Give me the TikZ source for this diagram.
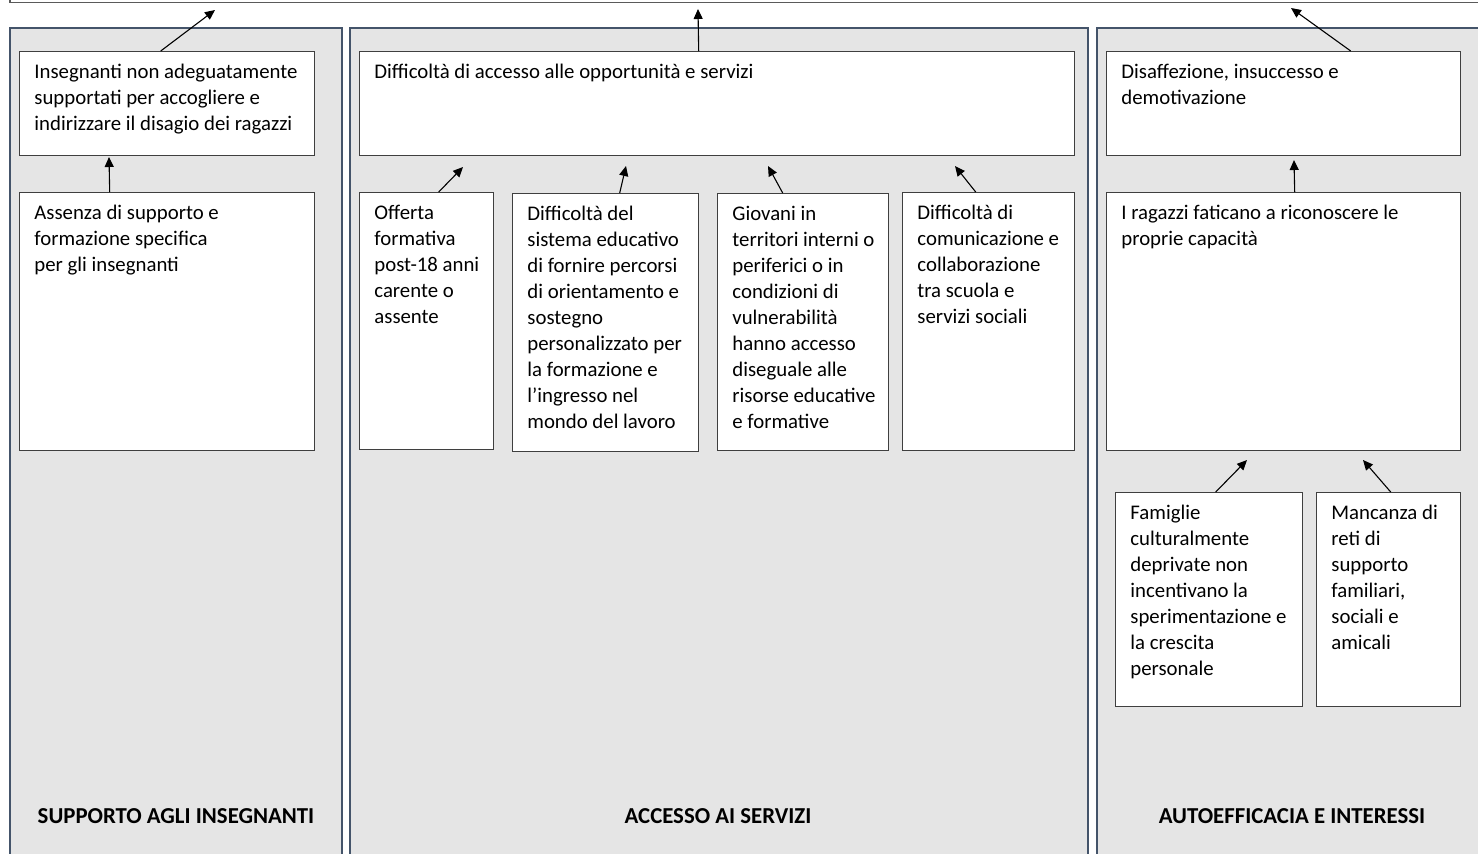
\documentclass[tikz,border=0pt]{standalone}
\usepackage{fontspec}
\setmainfont{Carlito}
\usetikzlibrary{arrows.meta}
\definecolor{panelfill}{HTML}{E5E5E5}
\definecolor{panelline}{HTML}{44546A}
\definecolor{boxline}{HTML}{3F3F3F}
\definecolor{topline}{HTML}{5A5A5A}
\newcommand{\causefont}{\fontsize{10.4}{13}\selectfont}
\newcommand{\titlefont}{\fontsize{11.4}{13}\selectfont\bfseries}
\tikzset{
  panel/.style={draw=panelline, line width=1pt, fill=panelfill},
  cause/.style={draw=boxline, line width=0.7pt, fill=white, anchor=north west, inner sep=0pt},
  txt/.style={anchor=north west, align=left, inner sep=0pt, font=\causefont, xshift=7.5pt, yshift=-6.5pt},
  arr/.style={-{Triangle[length=5pt,width=4.5pt]}, line width=0.55pt},
  paneltitle/.style={font=\titlefont}
}
\begin{document}
\begin{tikzpicture}[x=0.5pt, y=-0.5pt]
		%%%%% FRAME %%%%%
		\useasboundingbox (0,0) rectangle (1478,853);
		\clip (0,0) rectangle (1478,853);
		
		\draw[topline, line width=0.7pt] (10,-30) rectangle (1500,2.5);
		
		\draw[panel] (10,28) rectangle (342,900);
		\draw[panel] (350,28) rectangle (1088,900);
		\draw[panel] (1097,28) rectangle (1500,900);
		
		%%%%% SUPPORTO AGLI INSEGNANTI %%%%%
		\node[cause, minimum width=147.5pt, minimum height=52pt,
			label={[txt]north west:{Insegnanti non adeguatamente\\supportati per accogliere e\\indirizzare il disagio dei ragazzi}}] (a1) at (19,51) {};
		\node[cause, minimum width=147.5pt, minimum height=129pt,
			label={[txt]north west:{Assenza di supporto e\\formazione specifica\\per gli insegnanti}}] (a2) at (19,192) {};
		\node[paneltitle] (ta) at (176,816) {SUPPORTO AGLI INSEGNANTI};
		
		\coordinate (a1tip) at (109,157);
		\coordinate (toptipa) at (215,10);
		\draw[arr] ([xshift=-28.75pt]a2.north) -- (a1tip);
		\draw[arr] ([xshift=-3.25pt]a1.north) -- (toptipa);
		
		%%%%% ACCESSO AI SERVIZI %%%%%
		\node[cause, minimum width=357.5pt, minimum height=52pt,
			label={[txt]north west:{Difficoltà di accesso alle opportunità e servizi}}] (b0) at (359,51) {};
		\node[cause, minimum width=67pt, minimum height=128.5pt,
			label={[txt]north west:{Offerta\\formativa\\post-18 anni\\carente o\\assente}}] (b1) at (359,192) {};
		\node[cause, minimum width=93pt, minimum height=129pt,
			label={[txt]north west:{Difficoltà del\\sistema educativo\\di fornire percorsi\\di orientamento e\\sostegno\\personalizzato per\\la formazione e\\l’ingresso nel\\mondo del lavoro}}] (b2) at (512,193) {};
		\node[cause, minimum width=85.5pt, minimum height=128.5pt,
			label={[txt]north west:{Giovani in\\territori interni o\\periferici o in\\condizioni di\\vulnerabilità\\hanno accesso\\diseguale alle\\risorse educative\\e formative}}] (b3) at (717,193) {};
		\node[cause, minimum width=86pt, minimum height=129pt,
			label={[txt]north west:{Difficoltà di\\comunicazione e\\collaborazione\\tra scuola e\\servizi sociali}}] (b4) at (902,192) {};
		\node[paneltitle] (tb) at (718,816) {ACCESSO AI SERVIZI};
		
		\coordinate (b1tip) at (463,167);
		\coordinate (b2tip) at (626,166);
		\coordinate (b3tip) at (768,166);
		\coordinate (b4tip) at (955,166);
		\coordinate (toptipb) at (698,9);
		\draw[arr] ([xshift=6pt]b1.north) -- (b1tip);
		\draw[arr] ([xshift=7pt]b2.north) -- (b2tip);
		\draw[arr] ([xshift=-10.25pt]b3.north) -- (b3tip);
		\draw[arr] ([xshift=-6.5pt]b4.north) -- (b4tip);
		\draw[arr] ([xshift=-9.25pt]b0.north) -- (toptipb);
		
		%%%%% AUTOEFFICACIA E INTERESSI %%%%%
		\node[cause, minimum width=177pt, minimum height=52pt,
			label={[txt]north west:{Disaffezione, insuccesso e\\demotivazione}}] (c0) at (1106,51) {};
		\node[cause, minimum width=177pt, minimum height=129pt,
			label={[txt]north west:{I ragazzi faticano a riconoscere le\\proprie capacità}}] (c1) at (1106,192) {};
		\node[cause, minimum width=93.5pt, minimum height=107pt,
			label={[txt]north west:{Famiglie\\culturalmente\\deprivate non\\incentivano la\\sperimentazione e\\la crescita\\personale}}] (c2) at (1115,492) {};
		\node[cause, minimum width=72pt, minimum height=107pt,
			label={[txt]north west:{Mancanza di\\reti di\\supporto\\familiari,\\sociali e\\amicali}}] (c3) at (1316,492) {};
		\node[paneltitle] (tc) at (1292,816) {AUTOEFFICACIA E INTERESSI};
		
		\coordinate (c0tip) at (1294,160);
		\coordinate (c2tip) at (1247,460);
		\coordinate (c3tip) at (1363,460);
		\coordinate (toptipc) at (1291,8);
		\draw[arr] ([xshift=5.5pt]c1.north) -- (c0tip);
		\draw[arr] ([xshift=3.25pt]c2.north) -- (c2tip);
		\draw[arr] ([xshift=1pt]c3.north) -- (c3tip);
		\draw[arr] ([xshift=33.5pt]c0.north) -- (toptipc);
		
		%%%%% END %%%%%
\end{tikzpicture}
\end{document}
